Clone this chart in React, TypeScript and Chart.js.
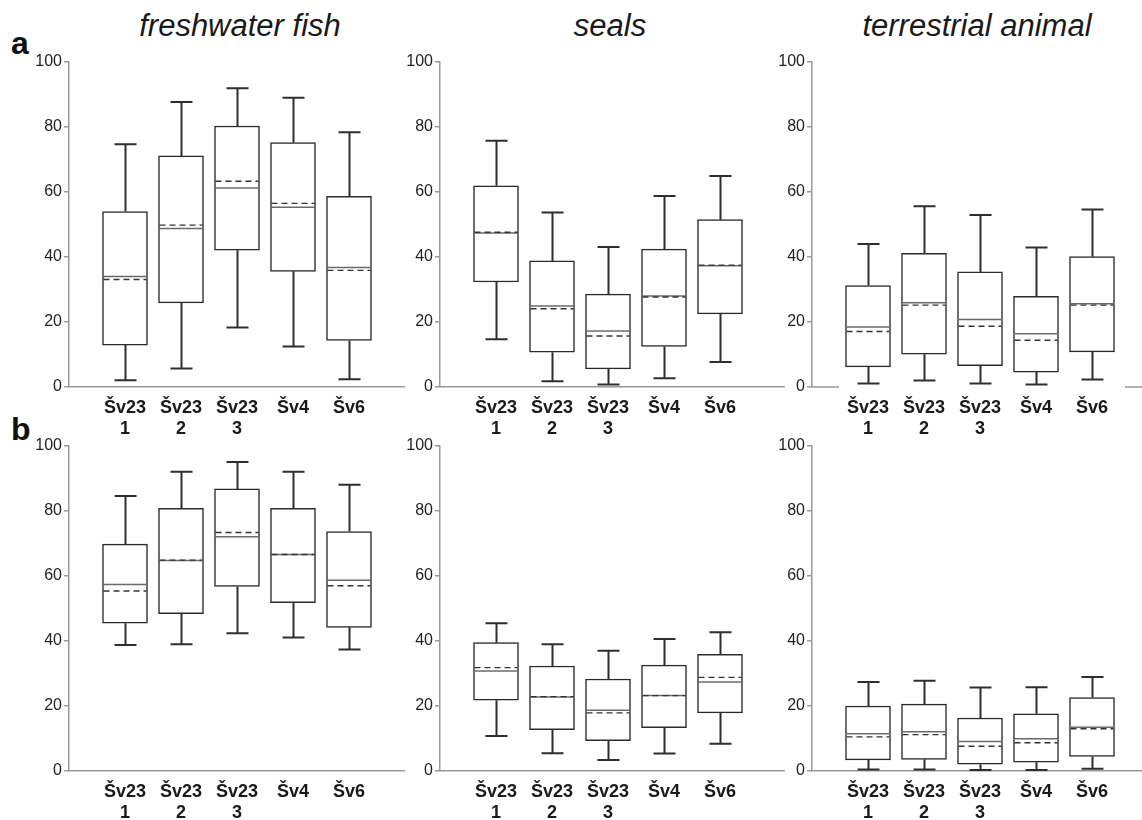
import React, { useEffect, useRef } from "react";
import { Chart, registerables } from "chart.js";

Chart.register(...registerables);

// ---------- data ----------
const categories: string[][] = [["Šv23", "1"], ["Šv23", "2"], ["Šv23", "3"], ["Šv4"], ["Šv6"]];
const positions = [1, 2, 3, 4, 5];
const yTickStep = 20;

const columnTitles = ["freshwater fish", "seals", "terrestrial animal"];
const rowLetters = ["a", "b"];

// row a — freshwater fish
const fishA_max = [74.7, 87.7, 91.9, 89.0, 78.4];
const fishA_q3 = [54.0, 71.1, 80.3, 75.2, 58.7];
const fishA_med = [34.0, 48.8, 61.2, 55.3, 36.8];
const fishA_mean = [33.1, 49.8, 63.3, 56.5, 35.9];
const fishA_q1 = [12.9, 25.9, 42.1, 35.6, 14.3];
const fishA_min = [2.1, 5.7, 18.3, 12.5, 2.4];

// row a — seals
const sealsA_max = [75.8, 53.7, 43.1, 58.8, 64.9];
const sealsA_q3 = [61.9, 38.8, 28.6, 42.4, 51.5];
const sealsA_med = [47.4, 24.9, 17.2, 28.0, 37.3];
const sealsA_mean = [47.6, 24.1, 15.7, 27.7, 37.5];
const sealsA_q1 = [32.3, 10.7, 5.6, 12.5, 22.5];
const sealsA_min = [14.7, 1.8, 0.8, 2.7, 7.7];

// row a — terrestrial animal
const terrA_max = [44.0, 55.6, 52.9, 42.9, 54.6];
const terrA_q3 = [31.2, 41.1, 35.4, 27.9, 40.1];
const terrA_med = [18.5, 25.9, 20.8, 16.4, 25.6];
const terrA_mean = [17.1, 25.2, 18.7, 14.4, 25.2];
const terrA_q1 = [6.2, 10.1, 6.6, 4.6, 10.8];
const terrA_min = [1.1, 2.0, 1.1, 0.8, 2.3];

// row b — freshwater fish
const fishB_max = [84.6, 92.1, 95.1, 92.1, 88.1];
const fishB_q3 = [69.8, 80.8, 86.8, 80.8, 73.7];
const fishB_med = [57.4, 64.8, 72.1, 66.6, 58.7];
const fishB_mean = [55.4, 64.9, 73.4, 66.6, 57.0];
const fishB_q1 = [45.5, 48.4, 56.8, 51.8, 44.2];
const fishB_min = [38.8, 39.0, 42.4, 41.1, 37.4];

// row b — seals
const sealsB_max = [45.5, 39.0, 37.0, 40.6, 42.7];
const sealsB_q3 = [39.5, 32.3, 28.3, 32.6, 35.9];
const sealsB_med = [30.8, 22.8, 18.7, 23.2, 27.4];
const sealsB_mean = [31.8, 22.9, 17.9, 23.2, 28.8];
const sealsB_q1 = [21.8, 12.7, 9.3, 13.3, 17.9];
const sealsB_min = [10.8, 5.5, 3.4, 5.4, 8.4];

// row b — terrestrial animal
const terrB_max = [27.4, 27.8, 25.7, 25.8, 28.9];
const terrB_q3 = [20.0, 20.6, 16.3, 17.6, 22.6];
const terrB_med = [11.5, 12.1, 9.1, 9.9, 13.5];
const terrB_mean = [10.5, 11.2, 7.6, 8.7, 13.0];
const terrB_q1 = [3.4, 3.6, 2.1, 2.7, 4.5];
const terrB_min = [0.5, 0.5, 0.3, 0.3, 0.7];

// ---------- layout / style ----------
const FONT = "'Liberation Sans', Arial, Helvetica, sans-serif";
const PAD_TOP = 14;
const Y_AXIS_W = 60;
const X_AXIS_H = 56;
const PLOT_H = 325;
const UNIT_PX = 56;

type Stats = {
  min: number[];
  q1: number[];
  med: number[];
  mean: number[];
  q3: number[];
  max: number[];
};

type PanelProps = {
  axisX: number;
  top: number;
  plotW: number;
  stats: Stats;
  gap?: [number, number];
};

function makeBoxPlugin(stats: Stats, gap?: [number, number]) {
  return {
    id: "boxExtras",
    beforeDatasetsDraw(chart: any) {
      const { ctx, scales } = chart;
      const x = scales.x;
      const y = scales.y;
      ctx.save();
      ctx.strokeStyle = "#2e2e2e";
      ctx.lineWidth = 2;
      positions.forEach((p, i) => {
        const cx = Math.round(x.getPixelForValue(p)) + 0.5;
        const capHalf = 11;
        const yMax = y.getPixelForValue(stats.max[i]);
        const yQ3 = y.getPixelForValue(stats.q3[i]);
        const yQ1 = y.getPixelForValue(stats.q1[i]);
        const yMin = y.getPixelForValue(stats.min[i]);
        ctx.beginPath();
        ctx.moveTo(cx, yQ3);
        ctx.lineTo(cx, yMax);
        ctx.moveTo(cx - capHalf, yMax);
        ctx.lineTo(cx + capHalf, yMax);
        ctx.moveTo(cx, yQ1);
        ctx.lineTo(cx, yMin);
        ctx.moveTo(cx - capHalf, yMin);
        ctx.lineTo(cx + capHalf, yMin);
        ctx.stroke();
      });
      ctx.restore();
    },
    afterDatasetsDraw(chart: any) {
      const { ctx, scales } = chart;
      const x = scales.x;
      const y = scales.y;
      ctx.save();
      positions.forEach((p, i) => {
        const cx = x.getPixelForValue(p);
        const half = 21.5;
        const yMed = y.getPixelForValue(stats.med[i]);
        const yMean = y.getPixelForValue(stats.mean[i]);
        ctx.setLineDash([]);
        ctx.strokeStyle = "#6a6a6a";
        ctx.lineWidth = 1.5;
        ctx.beginPath();
        ctx.moveTo(cx - half, yMed);
        ctx.lineTo(cx + half, yMed);
        ctx.stroke();
        ctx.setLineDash([6, 4]);
        ctx.strokeStyle = "#333";
        ctx.lineWidth = 1.4;
        ctx.beginPath();
        ctx.moveTo(cx - half, yMean);
        ctx.lineTo(cx + half, yMean);
        ctx.stroke();
      });
      ctx.restore();
    },
    afterDraw(chart: any) {
      if (!gap) return;
      const { ctx, chartArea } = chart;
      ctx.save();
      ctx.strokeStyle = "#999";
      ctx.lineWidth = 1.5;
      const yb = chartArea.bottom;
      ctx.beginPath();
      ctx.moveTo(chartArea.left, yb);
      ctx.lineTo(chartArea.left + gap[0], yb);
      ctx.moveTo(chartArea.left + gap[1], yb);
      ctx.lineTo(chartArea.right, yb);
      ctx.stroke();
      ctx.restore();
    },
  };
}

function Panel({ axisX, top, plotW, stats, gap }: PanelProps) {
  const ref = useRef<HTMLCanvasElement | null>(null);
  const width = Y_AXIS_W + plotW;
  const height = PAD_TOP + PLOT_H + X_AXIS_H;

  useEffect(() => {
    if (!ref.current) return;
    const chart = new Chart(ref.current, {
      type: "bar",
      data: {
        datasets: [
          {
            data: positions.map((p, i) => ({ x: p, y: [stats.q1[i], stats.q3[i]] })) as any,
            backgroundColor: "#ffffff",
            borderColor: "#2b2b2b",
            borderWidth: 1.5,
            borderSkipped: false,
            barThickness: 45,
          },
        ],
      },
      options: {
        animation: false,
        responsive: false,
        maintainAspectRatio: false,
        layout: { padding: { top: PAD_TOP, left: 0, right: 0, bottom: 0 } },
        plugins: {
          legend: { display: false },
          tooltip: { enabled: false },
          title: { display: false },
        },
        scales: {
          x: {
            type: "linear",
            offset: false,
            min: 0,
            max: plotW / UNIT_PX,
            grid: { display: false, drawTicks: false, offset: false },
            border: { display: !gap, color: "#999", width: 1.5 },
            afterBuildTicks: (s: any) => {
              s.ticks = positions.map((v) => ({ value: v }));
            },
            afterFit: (s: any) => {
              s.height = X_AXIS_H;
            },
            ticks: {
              autoSkip: false,
              maxRotation: 0,
              minRotation: 0,
              padding: 10,
              color: "#1a1a1a",
              font: { family: FONT, size: 18, weight: "bold", lineHeight: 1.2 },
              callback: (_v: any, index: number) => categories[index],
            },
          },
          y: {
            min: 0,
            max: 100,
            grid: {
              display: true,
              drawOnChartArea: false,
              drawTicks: true,
              tickLength: 5,
              color: "#999",
              lineWidth: 1.5,
            },
            border: { display: true, color: "#999", width: 1.5 },
            afterFit: (s: any) => {
              s.width = Y_AXIS_W;
            },
            ticks: {
              stepSize: yTickStep,
              padding: 2,
              color: "#222",
              font: { family: FONT, size: 16 },
            },
          },
        },
      } as any,
      plugins: [makeBoxPlugin(stats, gap)],
    });
    return () => chart.destroy();
  }, []);

  return (
    <canvas
      ref={ref}
      width={width}
      height={height}
      style={{
        position: "absolute",
        left: axisX - Y_AXIS_W,
        top: top - PAD_TOP,
        width,
        height,
      }}
    />
  );
}

const panelsA: Stats[] = [
  { min: fishA_min, q1: fishA_q1, med: fishA_med, mean: fishA_mean, q3: fishA_q3, max: fishA_max },
  { min: sealsA_min, q1: sealsA_q1, med: sealsA_med, mean: sealsA_mean, q3: sealsA_q3, max: sealsA_max },
  { min: terrA_min, q1: terrA_q1, med: terrA_med, mean: terrA_mean, q3: terrA_q3, max: terrA_max },
];
const panelsB: Stats[] = [
  { min: fishB_min, q1: fishB_q1, med: fishB_med, mean: fishB_mean, q3: fishB_q3, max: fishB_max },
  { min: sealsB_min, q1: sealsB_q1, med: sealsB_med, mean: sealsB_mean, q3: sealsB_q3, max: sealsB_max },
  { min: terrB_min, q1: terrB_q1, med: terrB_med, mean: terrB_mean, q3: terrB_q3, max: terrB_max },
];

const colAxisX = [69, 440, 812];
const colPlotW = [336, 345, 330];
const colTitleCenter = [240, 610, 977];
const rowTop = [62, 446];

export default function App() {
  return (
    <div
      style={{
        position: "absolute",
        left: 0,
        top: 0,
        width: 1142,
        height: 820,
        background: "#fff",
        overflow: "hidden",
        fontFamily: FONT,
      }}
    >
      {columnTitles.map((t, i) => (
        <div
          key={t}
          style={{
            position: "absolute",
            left: colTitleCenter[i] - 200,
            width: 400,
            top: 10,
            textAlign: "center",
            fontSize: 31,
            lineHeight: "31px",
            fontStyle: "italic",
            color: "#1a1a1a",
          }}
        >
          {t}
        </div>
      ))}
      {rowLetters.map((l, i) => (
        <div
          key={l}
          style={{
            position: "absolute",
            left: 11,
            top: i === 0 ? 27 : 413,
            fontSize: 32,
            lineHeight: "32px",
            fontWeight: "bold",
            color: "#111",
          }}
        >
          {l}
        </div>
      ))}
      {panelsA.map((s, i) => (
        <Panel
          key={"a" + i}
          axisX={colAxisX[i]}
          top={rowTop[0]}
          plotW={colPlotW[i]}
          stats={s}
          gap={i === 2 ? [27, 313] : undefined}
        />
      ))}
      {panelsB.map((s, i) => (
        <Panel key={"b" + i} axisX={colAxisX[i]} top={rowTop[1]} plotW={colPlotW[i]} stats={s} />
      ))}
    </div>
  );
}
